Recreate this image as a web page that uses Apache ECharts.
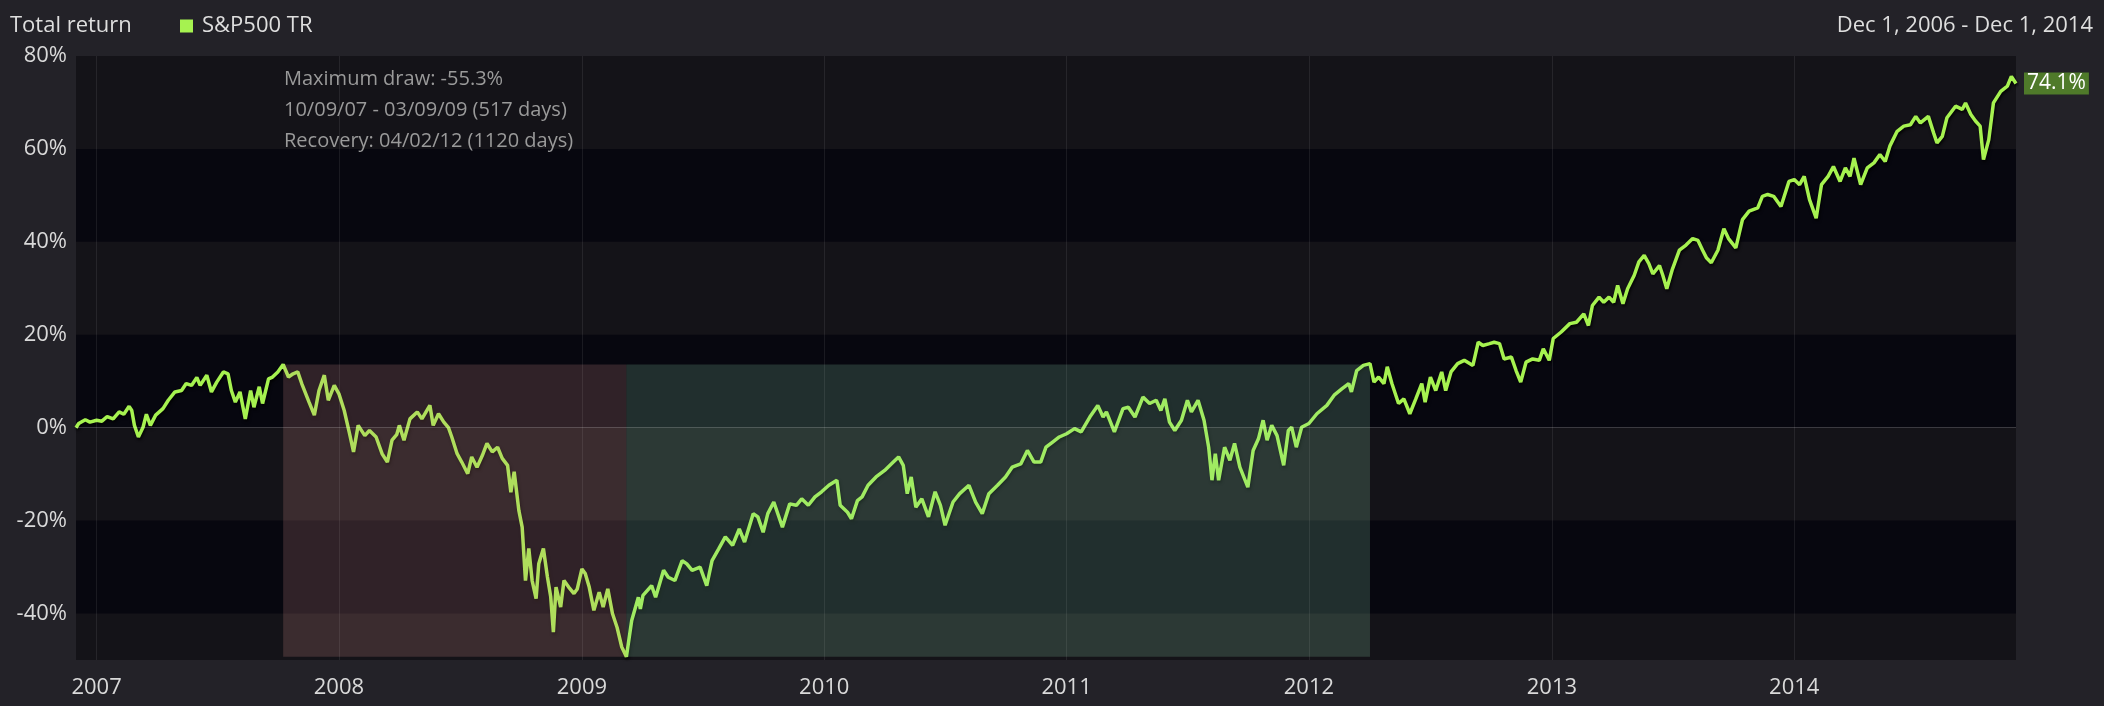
<!DOCTYPE html>
<html><head><meta charset="utf-8">
<script src="https://cdn.jsdelivr.net/npm/echarts@6/dist/echarts.min.js"></script>
<style>html,body{margin:0;padding:0;background:#232228;}#chart{width:2104px;height:706px;}</style>
</head><body><div id="chart"></div>
<script>
const chartTitle = 'Total return';
const seriesName = 'S&P500 TR';
const dateRangeText = 'Dec 1, 2006 - Dec 1, 2014';
const axisStart = '2006-12-01';
const axisEnd = '2014-12-01';
const yearLabels = ['2007','2008','2009','2010','2011','2012','2013','2014'];
const yTickLabels = [-40, -20, 0, 20, 40, 60, 80];
const yMin = -50, yMax = 80;
const drawdownStart = '2007-10-09';
const drawdownTrough = '2009-03-09';
const recoveryDate = '2012-04-02';
const annotationLines = ['Maximum draw: -55.3%', '10/09/07 - 03/09/09 (517 days)', 'Recovery: 04/02/12 (1120 days)'];

const dates = [
'2006-12-01','2006-12-05','2006-12-15','2006-12-22','2007-01-01','2007-01-09','2007-01-17','2007-01-26','2007-02-04','2007-02-11',
'2007-02-19','2007-02-23','2007-02-27','2007-03-05','2007-03-12','2007-03-17','2007-03-23','2007-03-31','2007-04-11','2007-04-19',
'2007-04-29','2007-05-09','2007-05-16','2007-05-24','2007-06-01','2007-06-06','2007-06-16','2007-06-23','2007-07-01','2007-07-11',
'2007-07-18','2007-07-23','2007-07-29','2007-08-05','2007-08-13','2007-08-21','2007-08-26','2007-09-03','2007-09-08','2007-09-17',
'2007-09-23','2007-10-01','2007-10-09','2007-10-17','2007-10-24','2007-10-31','2007-11-06','2007-11-17','2007-11-25','2007-12-02',
'2007-12-10','2007-12-16','2007-12-25','2008-01-01','2008-01-09','2008-01-17','2008-01-23','2008-01-30','2008-02-09','2008-02-16',
'2008-02-26','2008-03-06','2008-03-14','2008-03-21','2008-03-28','2008-04-01','2008-04-08','2008-04-17','2008-04-28','2008-05-05',
'2008-05-17','2008-05-22','2008-05-30','2008-06-07','2008-06-14','2008-06-19','2008-06-27','2008-07-04','2008-07-13','2008-07-19',
'2008-07-27','2008-08-04','2008-08-11','2008-08-19','2008-08-27','2008-09-03','2008-09-11','2008-09-16','2008-09-21','2008-09-28',
'2008-10-03','2008-10-08','2008-10-13','2008-10-18','2008-10-24','2008-10-28','2008-11-04','2008-11-10','2008-11-15','2008-11-19',
'2008-11-23','2008-11-30','2008-12-05','2008-12-12','2008-12-20','2008-12-25','2009-01-01','2009-01-06','2009-01-12','2009-01-19',
'2009-01-27','2009-02-02','2009-02-09','2009-02-16','2009-02-23','2009-03-02','2009-03-09','2009-03-17','2009-03-27','2009-03-30',
'2009-04-03','2009-04-16','2009-04-22','2009-05-04','2009-05-11','2009-05-21','2009-06-01','2009-06-08','2009-06-16','2009-06-28',
'2009-07-08','2009-07-16','2009-07-26','2009-08-05','2009-08-16','2009-08-26','2009-09-03','2009-09-16','2009-09-23','2009-10-01',
'2009-10-08','2009-10-17','2009-10-30','2009-11-10','2009-11-20','2009-11-28','2009-12-08','2009-12-18','2009-12-28','2010-01-08',
'2010-01-20','2010-01-25','2010-02-05','2010-02-11','2010-02-20','2010-02-27','2010-03-08','2010-03-20','2010-04-02','2010-04-15',
'2010-04-23','2010-04-30','2010-05-06','2010-05-12','2010-05-19','2010-05-28','2010-06-07','2010-06-17','2010-06-25','2010-07-02',
'2010-07-14','2010-07-24','2010-08-07','2010-08-17','2010-08-27','2010-09-06','2010-09-19','2010-10-01','2010-10-11','2010-10-24',
'2010-11-03','2010-11-13','2010-11-23','2010-12-01','2010-12-11','2010-12-21','2011-01-01','2011-01-13','2011-01-23','2011-02-05',
'2011-02-17','2011-02-25','2011-03-02','2011-03-14','2011-03-27','2011-04-04','2011-04-14','2011-04-26','2011-05-06','2011-05-16',
'2011-05-23','2011-05-29','2011-06-05','2011-06-13','2011-06-23','2011-07-02','2011-07-08','2011-07-18','2011-07-27','2011-08-03',
'2011-08-08','2011-08-13','2011-08-18','2011-08-27','2011-09-04','2011-09-11','2011-09-19','2011-10-01','2011-10-09','2011-10-17',
'2011-10-24','2011-10-30','2011-11-06','2011-11-14','2011-11-24','2011-12-01','2011-12-06','2011-12-13','2011-12-21','2012-01-01',
'2012-01-13','2012-01-28','2012-02-08','2012-02-20','2012-03-01','2012-03-05','2012-03-13','2012-03-23','2012-04-02','2012-04-08',
'2012-04-15','2012-04-23','2012-04-28','2012-05-05','2012-05-15','2012-05-23','2012-06-01','2012-06-10','2012-06-19','2012-06-24',
'2012-07-02','2012-07-10','2012-07-19','2012-07-25','2012-08-02','2012-08-12','2012-08-22','2012-09-04','2012-09-12','2012-09-19',
'2012-09-29','2012-10-06','2012-10-14','2012-10-21','2012-11-01','2012-11-08','2012-11-15','2012-11-23','2012-12-03','2012-12-13',
'2012-12-19','2012-12-28','2013-01-03','2013-01-15','2013-01-28','2013-02-07','2013-02-18','2013-02-25','2013-03-03','2013-03-13',
'2013-03-20','2013-03-28','2013-04-04','2013-04-10','2013-04-18','2013-04-25','2013-05-05','2013-05-12','2013-05-20','2013-05-27',
'2013-06-02','2013-06-12','2013-06-17','2013-06-23','2013-07-01','2013-07-12','2013-07-22','2013-08-01','2013-08-09','2013-08-16',
'2013-08-22','2013-08-29','2013-09-08','2013-09-17','2013-09-24','2013-10-05','2013-10-15','2013-10-25','2013-11-07','2013-11-14',
'2013-11-22','2013-12-01','2013-12-12','2013-12-24','2014-01-01','2014-01-09','2014-01-16','2014-01-24','2014-02-03','2014-02-11',
'2014-02-21','2014-03-01','2014-03-11','2014-03-19','2014-03-26','2014-04-01','2014-04-11','2014-04-21','2014-05-01','2014-05-10',
'2014-05-18','2014-05-25','2014-06-05','2014-06-15','2014-06-25','2014-07-03','2014-07-10','2014-07-22','2014-07-30','2014-08-04',
'2014-08-12','2014-08-19','2014-09-01','2014-09-11','2014-09-16','2014-09-24','2014-10-01','2014-10-08','2014-10-13','2014-10-21',
'2014-10-28','2014-11-08','2014-11-18','2014-11-24','2014-12-01'
];
const returns = [
0.0,0.9,1.7,1.2,1.6,1.4,2.4,1.9,3.4,2.9,
4.6,3.7,0.5,-2.0,0.1,2.9,0.5,2.7,4.1,5.9,
7.7,8.0,9.5,9.1,10.8,9.1,11.3,7.7,9.8,12.0,
11.6,8.0,5.5,7.7,1.9,8.0,4.4,8.8,5.2,10.5,
10.9,12.0,13.6,10.9,11.6,12.0,9.5,5.5,2.7,8.0,
11.3,5.9,9.1,7.3,3.7,-1.3,-5.2,0.5,-1.7,-0.6,
-2.0,-5.6,-7.4,-2.7,-1.5,0.5,-2.7,1.9,3.4,1.9,
4.8,0.5,3.0,1.2,0.0,-2.0,-5.6,-7.4,-9.9,-6.3,
-8.5,-6.0,-3.4,-5.2,-4.2,-6.6,-8.1,-13.9,-9.5,-17.8,
-21.4,-32.9,-26.0,-32.9,-36.8,-29.3,-26.0,-32.1,-36.4,-44.0,
-34.3,-38.6,-32.9,-34.3,-35.7,-34.7,-30.4,-31.4,-34.3,-39.3,
-35.4,-38.6,-34.7,-40.0,-43.0,-47.2,-49.3,-41.5,-36.5,-39.0,
-36.1,-34.0,-36.5,-30.7,-32.2,-32.9,-28.6,-29.3,-30.7,-30.0,
-34.0,-28.6,-26.1,-23.5,-25.3,-21.8,-24.6,-18.5,-19.2,-22.5,
-18.5,-16.0,-21.4,-16.4,-16.7,-15.3,-16.7,-14.9,-13.8,-12.4,
-11.3,-16.7,-18.2,-19.6,-15.7,-14.9,-12.4,-10.6,-9.2,-7.4,
-6.3,-8.1,-14.2,-10.6,-17.1,-15.3,-19.2,-13.8,-16.7,-21.0,
-16.0,-14.2,-12.4,-16.0,-18.5,-14.2,-12.4,-10.6,-8.5,-7.8,
-4.9,-7.4,-7.4,-4.2,-3.1,-2.0,-1.3,-0.2,-0.9,2.3,
4.8,2.3,3.4,-0.9,4.1,4.4,2.3,6.6,5.2,5.9,
3.7,6.2,1.2,-0.6,1.6,5.9,3.4,5.9,1.6,-4.2,
-11.3,-5.6,-11.3,-4.2,-7.0,-3.4,-8.5,-12.8,-4.9,-2.4,
1.6,-2.7,0.5,-1.7,-8.1,-0.6,0.1,-4.2,0.1,0.9,
3.0,4.8,7.0,8.4,9.5,7.7,12.3,13.4,13.8,9.8,
10.9,9.5,13.1,9.5,5.2,6.2,3.0,6.2,9.5,5.5,
10.9,8.0,12.0,8.0,12.0,13.8,14.5,13.4,18.4,17.7,
18.1,18.4,18.1,14.8,15.2,12.3,9.8,14.1,14.8,14.5,
17.0,14.5,19.2,20.6,22.4,22.7,24.5,22.0,26.3,28.1,
27.0,28.1,27.0,30.6,26.7,29.9,32.8,35.7,37.1,35.3,
33.1,34.9,32.8,29.9,33.9,38.2,39.3,40.7,40.3,38.2,
36.5,35.5,38.2,42.8,40.7,38.7,44.8,46.6,47.3,49.8,
50.2,49.8,47.6,53.0,53.4,52.3,54.1,49.1,45.1,52.3,
54.1,56.2,53.0,55.9,54.1,58.0,52.3,55.9,57.0,58.8,
57.3,60.6,63.8,64.9,65.2,67.0,65.6,67.0,63.4,61.3,
62.7,66.7,69.2,68.5,69.9,67.4,66.0,64.9,57.7,62.0,
69.9,72.4,73.5,75.6,74.1
];

const ts = d => +echarts.time.parse(d);
const seriesData = dates.map((d, i) => [ts(d), returns[i]]);
const peakValue = returns[dates.indexOf(drawdownStart)];
const troughValue = returns[dates.indexOf(drawdownTrough)];
const yearTs = yearLabels.map(y => ts(y + '-01-01'));
const xMin = ts(axisStart), xMax = ts(axisEnd);

// alternating horizontal bands built from the tick labels
const bounds = [yMin].concat(yTickLabels);
const bandData = [];
for (let i = 0; i < bounds.length - 1; i += 2) {
  bandData.push([{ xAxis: xMin, yAxis: bounds[i] }, { xAxis: xMax, yAxis: bounds[i + 1] }]);
}

const FONT = 'Open Sans';
const chart = echarts.init(document.getElementById('chart'), null, { renderer: 'canvas' });
chart.setOption({
  animation: false,
  backgroundColor: '#232228',
  textStyle: { fontFamily: FONT },
  grid: { left: 76, right: 88, top: 56, bottom: 46, show: true, backgroundColor: '#07070f', borderWidth: 0 },
  legend: {
    data: [seriesName], left: 175, top: 10, icon: 'rect', itemWidth: 13, itemHeight: 13,
    selectedMode: false,
    textStyle: { color: '#dedede', fontSize: 22, fontFamily: FONT, padding: [0, 0, 0, 4] }
  },
  graphic: [
    { type: 'text', left: 10, top: 15, z: 10, style: { text: chartTitle, fill: '#dedede', font: '22px "Open Sans"' } },
    { type: 'text', right: 11, top: 15, z: 10, style: { text: dateRangeText, fill: '#dedede', font: '22px "Open Sans"' } }
  ].concat(annotationLines.map((t, i) => ({
    type: 'text', left: 284, top: 69 + i * 31, z: 10,
    style: { text: t, fill: '#9a9a9a', font: '20px "Open Sans"' }
  }))),
  xAxis: {
    type: 'value', min: xMin, max: xMax, z: 4,
    axisLine: { show: false },
    axisTick: { show: false, customValues: yearTs },
    axisLabel: {
      customValues: yearTs, color: '#d9d9d9', fontSize: 22, fontFamily: FONT, margin: 17,
      formatter: v => yearLabels[yearTs.indexOf(+v)]
    },
    splitLine: { show: true, lineStyle: { color: 'rgba(255,255,255,0.08)', width: 1 } }
  },
  yAxis: {
    type: 'value', min: yMin, max: yMax,
    axisLine: { show: false },
    axisTick: { show: false, customValues: yTickLabels },
    axisLabel: { customValues: yTickLabels, formatter: '{value}%', color: '#d9d9d9', fontSize: 22, fontFamily: FONT, margin: 9, padding: [10, 0, 0, 0] },
    splitLine: { show: false }
  },
  series: [
    {
      type: 'line', data: [], silent: true, z: 1,
      markArea: { silent: true, z: 1, itemStyle: { color: '#141318' }, data: bandData }
    },
    {
      type: 'line', name: seriesName, data: seriesData, z: 2,
      showSymbol: false, symbol: 'none',
      itemStyle: { color: '#a6f250' },
      lineStyle: { color: '#a6f250', width: 3.5, shadowColor: 'rgba(0,0,0,0.85)', shadowBlur: 3, shadowOffsetX: 1, shadowOffsetY: 2 },
      endLabel: {
        show: true, distance: 8, color: '#ffffff', fontSize: 21, fontFamily: FONT,
        backgroundColor: '#4f7a2a', padding: [1, 3, 0, 3],
        formatter: p => p.value[1].toFixed(1) + '%'
      },
      markArea: {
        silent: true, z: 3,
        data: [
          [{ xAxis: ts(drawdownStart), yAxis: peakValue, itemStyle: { color: 'rgba(217,146,139,0.2)' } }, { xAxis: ts(drawdownTrough), yAxis: troughValue }],
          [{ xAxis: ts(drawdownTrough), yAxis: peakValue, itemStyle: { color: 'rgba(142,212,171,0.2)' } }, { xAxis: ts(recoveryDate), yAxis: troughValue }]
        ]
      },
      markLine: {
        silent: true, z: 4, symbol: 'none', label: { show: false },
        lineStyle: { color: 'rgba(255,255,255,0.2)', width: 1, type: 'solid' },
        data: [{ yAxis: 0 }]
      }
    }
  ]
});
</script></body></html>
